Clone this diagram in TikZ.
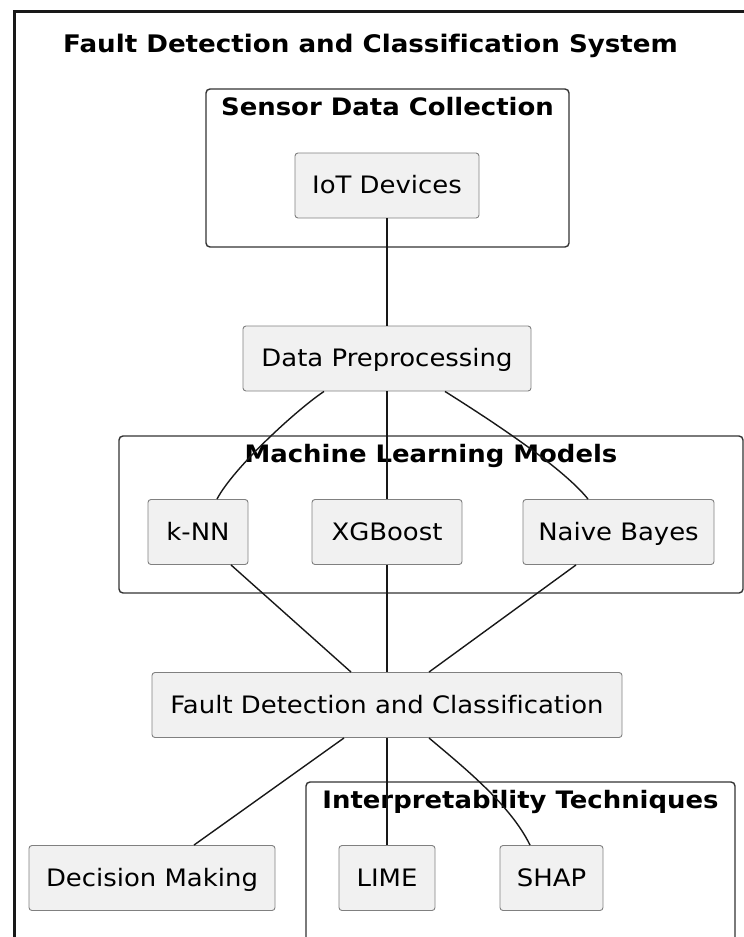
\documentclass[tikz,border=0pt]{standalone}
\usepackage{fontspec}
\setmainfont{DejaVu Sans}[FakeStretch=1.08,Ligatures=NoCommon]
\usetikzlibrary{calc}
\definecolor{boxfill}{HTML}{F1F1F1}
\definecolor{lineclr}{HTML}{181818}
\begin{document}
\begin{tikzpicture}[x=1pt,y=-1pt,
  box/.style={draw=black!50, line width=0.9pt, fill=boxfill, rounded corners=3pt,
    minimum height=65pt, inner sep=0pt, text height=17.5pt, text depth=1.5pt,
    font=\fontsize{24}{28}\selectfont},
  grp/.style={draw=black!80, line width=1.4pt, rounded corners=4pt},
  grptitle/.style={anchor=base, inner sep=0pt, font=\bfseries\fontsize{24}{28}\selectfont},
  conn/.style={draw=lineclr, line width=1.4pt}]
\useasboundingbox (0,0) rectangle (744,937);
\begin{scope}
\clip (0,0) rectangle (744,937);
% outer frame
\draw[line width=3pt, lineclr] (14.5,960) -- (14.5,11) -- (760,11);
% title
\node[anchor=base west, inner sep=0pt, font=\bfseries\fontsize{24.2}{28}\selectfont] (title) at (63,52) {Fault Detection and Classification System};
% groups
\draw[grp] (206,89) rectangle (569,247);
\node[grptitle] (gsens) at (387.5,115) {Sensor Data Collection};
\draw[grp] (119,436) rectangle (743,593);
\node[grptitle] (gml) at (431,462) {Machine Learning Models};
\draw[grp] (306,782) rectangle (735,980);
\node[grptitle] (ginterp) at (520.5,808) {Interpretability Techniques};
% nodes
\node[box, minimum width=184pt] (iot) at (387,185.5) {IoT Devices};
\node[box, minimum width=288pt] (dp) at (387,358.5) {Data Preprocessing};
\node[box, minimum width=100pt] (knn) at (198,532) {k-NN};
\node[box, minimum width=150pt] (xgb) at (387,532) {XGBoost};
\node[box, minimum width=191pt] (nb) at (618.5,532) {Naive Bayes};
\node[box, minimum width=470pt] (fdc) at (387,705) {Fault Detection and Classification};
\node[box, minimum width=246pt] (dm) at (152,878) {Decision Making};
\node[box, minimum width=96pt] (lime) at (387,878) {LIME};
\node[box, minimum width=103pt] (shap) at (551.5,878) {SHAP};
% connectors
\draw[conn] (iot) -- (dp);
\draw[conn] (dp) -- (xgb);
\draw[conn] (xgb) -- (fdc);
\draw[conn] (fdc) -- (lime);
\draw[conn] ($(dp.south)+(-63,0)$) .. controls ($(dp.south)+(-90,18)$) and ($(knn.north)+(36,-32)$) .. ($(knn.north)+(19,0)$);
\draw[conn] ($(dp.south)+(58,0)$) .. controls ($(dp.south)+(88,19)$) and ($(nb.north)+(-58.5,-35)$) .. ($(nb.north)+(-30.5,0)$);
\draw[conn] ($(knn.south)+(33,0)$) -- ($(fdc.north)+(-36,0)$);
\draw[conn] ($(nb.south)+(-42.5,0)$) -- ($(fdc.north)+(42,0)$);
\draw[conn] ($(fdc.south)+(-43,0)$) -- ($(dm.north)+(42,0)$);
\draw[conn] ($(fdc.south)+(42,0)$) .. controls ($(fdc.south)+(75,28)$) and ($(shap.north)+(-41.5,-41)$) .. ($(shap.north)+(-21.5,0)$);
\end{scope}
\end{tikzpicture}
\end{document}
